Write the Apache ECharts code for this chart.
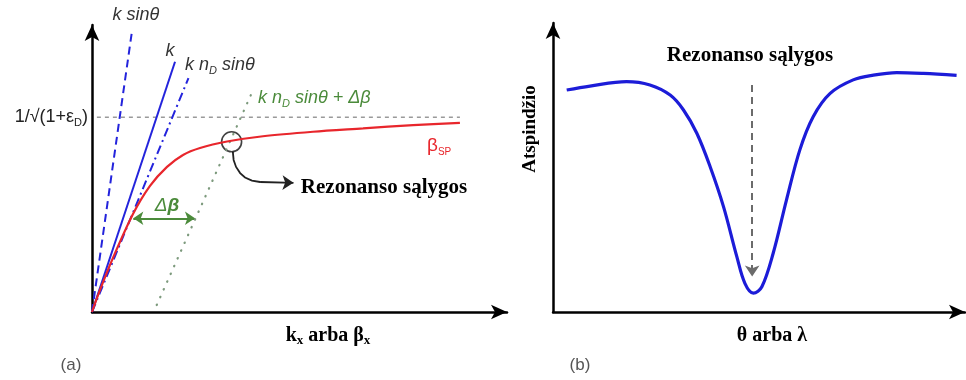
<!DOCTYPE html>
<html>
<head>
<meta charset="utf-8">
<script src="https://cdn.jsdelivr.net/npm/echarts@6/dist/echarts.min.js"></script>
<style>html,body{margin:0;padding:0;background:#fff}#c{width:966px;height:380px}</style>
</head>
<body>
<div id="c"></div>
<script>
// ---- Panel (a): dispersion diagram (data units; axis arrow adds a little headroom) ----
const kSinTheta = [[0, 0], [9.75, 99.9]];
const kLight = [[0, 0], [20.4, 89.7]];
const kNdSinTheta = [[0, 0], [23.7, 83.8]];
const kNdSinThetaPlusDb = [[15.9, 2.5], [39.6, 79.6]];
const epsLevel = [[1.2, 69.8], [90.4, 69.8]];
const betaSP = [[0, 0], [1.97, 7.9], [5.16, 19.4], [10.07, 35.1], [14.25, 45.2], [18.43, 52.0], [22.36, 56.3], [26.54, 58.8], [33.17, 61.1], [42.01, 63.0], [54.3, 64.6], [66.6, 65.8], [78.9, 67.0], [90.4, 67.8]];
const resonancePoint = [[34.3, 61.0]];
const pointerPath = [[34.6, 57.5], [34.8, 54.5], [35.4, 52.0], [36.4, 49.8], [37.6, 48.2], [39.3, 47.1], [41.3, 46.6]];
const pointerArrow = [[41.3, 46.6], [49.5, 46.3]];
const deltaBeta = [[10.15, 33.6], [25.3, 33.6]];

// ---- Panel (b): reflectance dip ----
const reflX = [3.39, 9.16, 18.2, 24.0, 29.0, 32.3, 35.6, 38.9, 42.2, 45.5, 47.5, 49.6, 51.7, 54.5, 57.8, 61.1, 64.4, 68.6, 74.3, 79.3, 85.1, 91.7, 99.9];
const reflY = [79.0, 80.4, 82.0, 80.8, 77.2, 71.9, 63.6, 51.7, 37.5, 19.7, 10.2, 6.7, 9.0, 20.9, 39.9, 57.7, 69.5, 77.8, 82.6, 84.3, 85.2, 84.9, 84.2];
const dipArrow = [[49.3, 80.8], [49.3, 12.6]];

const reflData = reflX.map((x, i) => [x, reflY[i]]);

const chart = echarts.init(document.getElementById('c'), null, {renderer: 'canvas'});

const axisLineStyle = {show: true, symbol: ['none', 'arrow'], symbolSize: [11, 16], lineStyle: {color: '#000', width: 2.5}};
function mkAxis(gi, max) {
  return {type: 'value', gridIndex: gi, min: 0, max: max, axisLine: axisLineStyle, axisTick: {show: false}, axisLabel: {show: false}, splitLine: {show: false}};
}
const SANS = 'Liberation Sans';
const SERIF = 'Liberation Serif';
const BLUE = '#2323dc';
const GREEN = '#4b8b3b';
const RED = '#e8262c';

function txt(x, y, text, style, extra) {
  return Object.assign({type: 'text', x: x, y: y, style: Object.assign({text: text, align: 'center', verticalAlign: 'middle', fill: '#000'}, style)}, extra || {});
}

chart.setOption({
  animation: false,
  grid: [
    {left: 92, top: 25, width: 415, height: 287},
    {left: 553, top: 23, width: 412, height: 289}
  ],
  xAxis: [mkAxis(0, 101.97), mkAxis(1, 101.98)],
  yAxis: [mkAxis(0, 102.87), mkAxis(1, 102.85)],
  series: [
    {type: 'line', xAxisIndex: 0, yAxisIndex: 0, data: epsLevel, symbol: 'none', lineStyle: {color: '#9a9a9a', width: 1.3, type: [4, 4]}},
    {type: 'line', xAxisIndex: 0, yAxisIndex: 0, data: kSinTheta, symbol: 'none', lineStyle: {color: BLUE, width: 2, type: [8, 5]}},
    {type: 'line', xAxisIndex: 0, yAxisIndex: 0, data: kLight, symbol: 'none', lineStyle: {color: BLUE, width: 2}},
    {type: 'line', xAxisIndex: 0, yAxisIndex: 0, data: kNdSinTheta, symbol: 'none', lineStyle: {color: BLUE, width: 2, type: [9, 4, 2, 4]}},
    {type: 'line', xAxisIndex: 0, yAxisIndex: 0, data: kNdSinThetaPlusDb, symbol: 'none', lineStyle: {color: '#7d9a7d', width: 2.2, type: [0.5, 8], cap: 'round'}},
    {type: 'line', xAxisIndex: 0, yAxisIndex: 0, data: betaSP, symbol: 'none', smooth: 0.3, lineStyle: {color: RED, width: 2.2}},
    {type: 'scatter', xAxisIndex: 0, yAxisIndex: 0, data: resonancePoint, symbol: 'circle', symbolSize: 20, itemStyle: {color: 'rgba(0,0,0,0)', borderColor: '#111', borderWidth: 1.6}},
    {type: 'lines', coordinateSystem: 'cartesian2d', xAxisIndex: 0, yAxisIndex: 0, polyline: true,
      data: [{coords: pointerPath}], lineStyle: {color: '#222', width: 1.8, opacity: 1}},
    {type: 'lines', coordinateSystem: 'cartesian2d', xAxisIndex: 0, yAxisIndex: 0, symbol: ['none', 'arrow'], symbolSize: 11,
      data: [{coords: pointerArrow}], lineStyle: {color: '#222', width: 1.8, opacity: 1}},
    {type: 'lines', coordinateSystem: 'cartesian2d', xAxisIndex: 0, yAxisIndex: 0, symbol: ['arrow', 'arrow'], symbolSize: 10,
      data: [{coords: deltaBeta}], lineStyle: {color: GREEN, width: 2, opacity: 1}},
    {type: 'line', xAxisIndex: 1, yAxisIndex: 1, data: reflData, symbol: 'none', smooth: 0.35, lineStyle: {color: '#1c1cd8', width: 3.2}},
    {type: 'lines', coordinateSystem: 'cartesian2d', xAxisIndex: 1, yAxisIndex: 1, symbol: ['none', 'arrow'], symbolSize: 11,
      data: [{coords: dipArrow}], lineStyle: {color: '#6b6b6b', width: 2, type: [7, 5], opacity: 1}}
  ],
  graphic: [
    txt(136, 15, 'k sinθ', {font: 'italic 18px ' + SANS, fill: '#333'}),
    txt(170, 51, 'k', {font: 'italic 18px ' + SANS, fill: '#333'}),
    {type: 'text', x: 185, y: 65, style: {text: '{a|k n}{s|D}{a| sinθ}', align: 'left', verticalAlign: 'middle',
      rich: {a: {font: 'italic 18px ' + SANS, fill: '#333', lineHeight: 20}, s: {font: 'italic 11px ' + SANS, fill: '#333', padding: [12, 0, 0, 0], lineHeight: 20}}}},
    {type: 'text', x: 258, y: 98, style: {text: '{a|k n}{s|D}{a| sinθ + Δβ}', align: 'left', verticalAlign: 'middle',
      rich: {a: {font: 'italic 18px ' + SANS, fill: GREEN, lineHeight: 20}, s: {font: 'italic 11px ' + SANS, fill: GREEN, padding: [12, 0, 0, 0], lineHeight: 20}}}},
    {type: 'text', x: 88, y: 117, style: {text: '{a|1/√(1+ε}{s|D}{a|)}', align: 'right', verticalAlign: 'middle',
      rich: {a: {font: '18px ' + SANS, fill: '#222', lineHeight: 20}, s: {font: '11px ' + SANS, fill: '#222', padding: [12, 0, 0, 0], lineHeight: 20}}}},
    {type: 'text', x: 427, y: 146, style: {text: '{a|β}{s|SP}', align: 'left', verticalAlign: 'middle',
      rich: {a: {font: '19px ' + SANS, fill: RED, lineHeight: 20}, s: {font: '10px ' + SANS, fill: RED, padding: [12, 0, 0, 0], lineHeight: 20}}}},
    {type: 'text', x: 167, y: 206, style: {text: '{a|Δ}{b|β}', align: 'center', verticalAlign: 'middle',
      rich: {a: {font: 'italic 19px ' + SANS, fill: GREEN}, b: {font: 'italic bold 19px ' + SANS, fill: GREEN}}}},
    txt(384, 188, 'Rezonanso sąlygos', {font: 'bold 21px ' + SERIF}),
    txt(750, 56, 'Rezonanso sąlygos', {font: 'bold 21px ' + SERIF}),
    {type: 'text', x: 328, y: 336, style: {text: '{a|k}{s|x}{a| arba β}{s|x}', align: 'center', verticalAlign: 'middle',
      rich: {a: {font: 'bold 20px ' + SERIF, fill: '#000', lineHeight: 22}, s: {font: 'bold 13px ' + SERIF, fill: '#000', padding: [10, 0, 0, 0], lineHeight: 22}}}},
    txt(772, 336, 'θ arba λ', {font: 'bold 20px ' + SERIF}),
    txt(530, 129, 'Atspindžio', {font: 'bold 19px ' + SERIF}, {rotation: Math.PI / 2}),
    txt(71, 365, '(a)', {font: '17px ' + SANS, fill: '#555'}),
    txt(580, 365, '(b)', {font: '17px ' + SANS, fill: '#555'})
  ]
});
</script>
</body>
</html>
